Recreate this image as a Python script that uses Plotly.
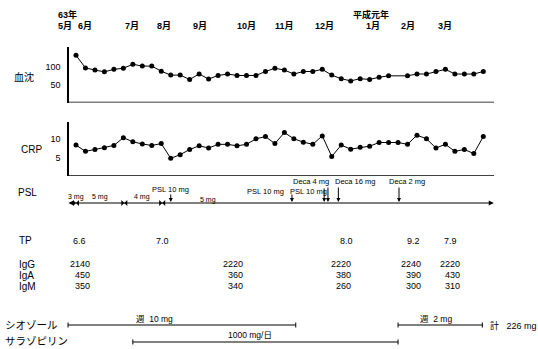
import plotly.graph_objects as go

W, H = 538, 349

# ---------------- data ----------------
weeks = list(range(44))
esr = [131, 96, 90, 85, 92, 95, 106, 101, 101, 87,
       76, 76, 64, 79, 65, 75, 79, 75, 75, 75,
       86, 95, 90, 79, 86, 86, 92, 76, 66, 60,
       66, 64, 70, 74, None, 74, 79, 79, 86, 92,
       79, 79, 79, 86]
crp = [8.4, 6.7, 7.2, 7.7, 8.3, 10.4, 9.3, 8.7, 8.3, 8.8,
       4.8, 5.8, 7.2, 8.2, 7.6, 8.6, 8.6, 8.2, 8.6, 10.1,
       10.7, 8.8, 11.8, 10.1, 9.2, 8.6, 10.9, 5.3, 8.4, 7.3,
       7.8, 8.1, 9.1, 9.1, 9.1, 8.6, 11.1, 10.1, 7.6, 8.6,
       6.7, 7.2, 6.1, 10.7]
esr_ticks = [50, 100]
crp_ticks = [5, 10]

month_labels = ["5月", "6月", "7月", "8月", "9月", "10月", "11月", "12月", "1月", "2月", "3月"]
month_weeks = [-1.2, 1.0, 5.9, 9.3, 13.1, 18.0, 22.0, 26.2, 31.4, 35.0, 39.0]
year_labels = ["63年", "平成元年"]
year_weeks = [-0.9, 31.1]

psl_span = [-0.95, 44.1]
psl_change_weeks = [0.0, 5.1, 9.1]
psl_dose_labels = ["3 mg", "5 mg", "4 mg", "5 mg"]
psl_dose_weeks = [-0.05, 2.5, 7.0, 13.9]
event_labels = ["PSL 10 mg", "PSL 10 mg", "PSL 10 mg", "Deca 4 mg", "Deca 16 mg", "Deca 2 mg"]
event_label_weeks = [10.0, 20.0, 24.5, 24.8, 29.5, 34.9]
event_arrow_weeks = [10.0, 22.8, 26.2, 26.6, 27.7, 34.1]

tp = [6.6, 7.0, 8.0, 9.2, 7.9]
tp_weeks = [0.4, 9.1, 28.6, 35.6, 39.5]
igg = [2140, 2220, 2220, 2240, 2220]
iga = [450, 360, 380, 390, 430]
igm = [350, 340, 260, 300, 310]
ig_weeks = [1.7, 17.8, 29.2, 36.6, 40.7]

thiosol_segments = [(-0.84, 23.2), (34.0, 42.9)]
thiosol_labels = ["週  10 mg", "週  2 mg"]
thiosol_label_weeks = [8.3, 38.0]
thiosol_total = "計   226 mg"
thiosol_total_week = 43.5
salazo_segments = [(6.0, 34.0)]
salazo_label = "1000 mg/日"
salazo_label_week = 18.4

# ---------------- layout helpers ----------------
FONT = "Liberation Sans, Arial, Noto Sans CJK JP, sans-serif"
JP = "Noto Sans CJK JP, Liberation Sans, sans-serif"
PX_PER_WEEK = 9.472
X0 = -76 / PX_PER_WEEK
X1 = X0 + W / PX_PER_WEEK


def fy(p):
    return 1 - p / H


def xpx(p):
    return (p - 76) / PX_PER_WEEK


annotations = []
shapes = []


def text(t, x, y, xref="x", size=9, xanchor="center", family=FONT):
    if xref == "paper":
        x = x / W
    annotations.append(dict(text=t, x=x, y=fy(y), xref=xref, yref="paper",
                            showarrow=False, xanchor=xanchor, yanchor="middle",
                            font=dict(size=size, family=family, color="black")))


fig = go.Figure()
fig.add_trace(go.Scatter(x=weeks, y=esr, mode="lines+markers", connectgaps=True,
                         line=dict(color="black", width=1),
                         marker=dict(color="black", size=5), xaxis="x", yaxis="y"))
fig.add_trace(go.Scatter(x=weeks, y=crp, mode="lines+markers",
                         line=dict(color="black", width=1),
                         marker=dict(color="black", size=5), xaxis="x", yaxis="y2"))
fig.add_trace(go.Scatter(x=psl_change_weeks, y=[0.5] * len(psl_change_weeks), mode="markers",
                         marker=dict(color="black", size=6, symbol="bowtie"),
                         xaxis="x", yaxis="y3"))

# axes baselines
x_left = xpx(68)
x_right = xpx(494)
for yr in ["y", "y2"]:
    shapes.append(dict(type="line", xref="x", yref=yr, x0=x_left, x1=x_right, y0=0, y1=0,
                       line=dict(color="black", width=1.5)))

# header
for lab, wk in zip(month_labels, month_weeks):
    text("<b>" + lab + "</b>", wk, 26, size=9)
for lab, wk in zip(year_labels, year_weeks):
    text("<b>" + lab + "</b>", wk, 14, size=9)

# row labels
text("血沈", 24, 76, xref="paper", size=10, family=JP)
text("CRP", 31, 149, xref="paper", size=10)
text("PSL", 27, 192, xref="paper", size=10)
text("TP", 25, 241, xref="paper", size=10)
text("IgG", 17, 264, xref="paper", size=10, xanchor="left")
text("IgA", 17, 275, xref="paper", size=10, xanchor="left")
text("IgM", 17, 286, xref="paper", size=10, xanchor="left")
text("シオゾール", 3, 324, xref="paper", size=10.5, xanchor="left", family=JP)
text("サラゾピリン", 3, 340, xref="paper", size=10.5, xanchor="left", family=JP)

# PSL row
PSL_Y = 203
annotations.append(dict(text="", x=psl_span[1], y=fy(PSL_Y), xref="x", yref="paper",
                        ax=psl_span[0], ay=0, axref="x", ayref="pixel",
                        showarrow=True, arrowside="start+end", arrowhead=2, arrowsize=1,
                        arrowwidth=1, arrowcolor="black", standoff=0, startstandoff=0))
dose_y = [197, 197, 197, 200]
for lab, wk, yy in zip(psl_dose_labels, psl_dose_weeks, dose_y):
    text(lab, wk, yy, size=7)
ev_label_y = [189, 191, 191, 182, 182, 182]
ev_arrow_len = [9, 9, 15, 16, 16, 16]
for lab, wk, yy in zip(event_labels, event_label_weeks, ev_label_y):
    text(lab, wk, yy, size=7.5)
for wk, ln in zip(event_arrow_weeks, ev_arrow_len):
    annotations.append(dict(text="", x=wk, y=fy(PSL_Y - 1), xref="x", yref="paper",
                            ax=0, ay=-ln, showarrow=True, arrowhead=2, arrowsize=0.8,
                            arrowwidth=1, arrowcolor="black", standoff=0))

# lab values
for v, wk in zip(tp, tp_weeks):
    text(f"{v:.1f}", wk, 241, size=9)
for arr, yy in zip([igg, iga, igm], [264, 275, 286]):
    for v, wk in zip(arr, ig_weeks):
        text(str(v), wk, yy, size=9, xanchor="right")


# treatments
def segment(x0, x1, p):
    shapes.append(dict(type="line", xref="x", yref="paper", x0=x0, x1=x1, y0=fy(p), y1=fy(p),
                       line=dict(color="black", width=1)))
    for xe in (x0, x1):
        shapes.append(dict(type="line", xref="x", yref="paper", x0=xe, x1=xe,
                           y0=fy(p + 2.5), y1=fy(p - 2.5), line=dict(color="black", width=1)))


for s in thiosol_segments:
    segment(s[0], s[1], 325)
for lab, wk in zip(thiosol_labels, thiosol_label_weeks):
    text(lab, wk, 319, size=8.5)
text(thiosol_total, thiosol_total_week, 325, size=9, xanchor="left")
for s in salazo_segments:
    segment(s[0], s[1], 342)
text(salazo_label, salazo_label_week, 335, size=8.5)

fig.update_layout(
    width=W, height=H, margin=dict(l=0, r=0, t=0, b=0),
    paper_bgcolor="white", plot_bgcolor="white", showlegend=False,
    xaxis=dict(domain=[0, 1], range=[X0, X1], visible=False, fixedrange=True),
    yaxis=dict(domain=[fy(102.5), fy(47)], range=[0, 154], anchor="free", position=68 / W,
               tickvals=esr_ticks, ticks="", showline=True, linecolor="black", linewidth=1.5,
               showgrid=False, zeroline=False, ticklabelstandoff=5,
               tickfont=dict(size=9, family=FONT, color="black")),
    yaxis2=dict(domain=[fy(176), fy(122)], range=[0, 14.67], anchor="free", position=68 / W,
                tickvals=crp_ticks, ticks="", showline=True, linecolor="black", linewidth=1.5,
                showgrid=False, zeroline=False, ticklabelstandoff=5,
                tickfont=dict(size=9, family=FONT, color="black")),
    yaxis3=dict(domain=[fy(208), fy(198)], range=[0, 1], visible=False, anchor="x"),
    annotations=annotations, shapes=shapes,
)

fig.write_html("out.html", config={"displayModeBar": False},
               post_script="document.body.style.margin='0';document.body.style.overflow='hidden';")
